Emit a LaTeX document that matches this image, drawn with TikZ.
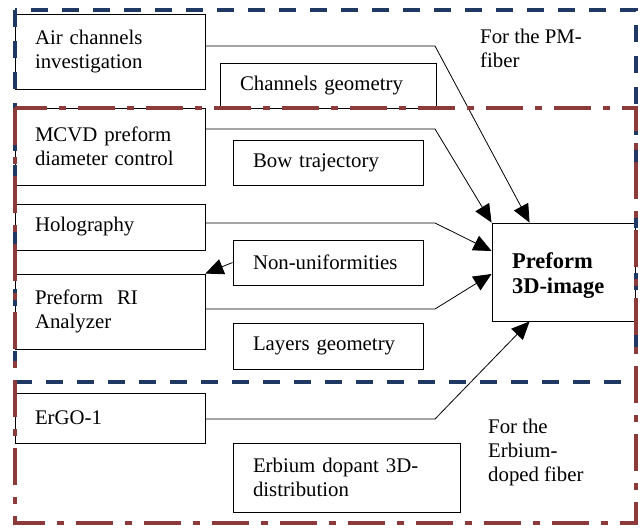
\documentclass[tikz,border=0pt]{standalone}
\usepackage{fontspec}
\setmainfont{Liberation Serif}
\usepackage{tikz}
\usetikzlibrary{arrows.meta}
\definecolor{pmblue}{RGB}{31,56,100}
\definecolor{erbrown}{RGB}{140,58,58}
\tikzstyle{method} = [rectangle, draw=black, line width=0.9pt, text width=150pt, inner xsep=20pt, inner ysep=2pt, align=left, font=\fontsize{20.8}{24}\selectfont]
\tikzstyle{result} = [rectangle, draw=black, line width=0.9pt, text width=103pt, inner xsep=20pt, inner ysep=2pt, align=left, font=\fontsize{22.5}{25}\selectfont\bfseries]
\tikzstyle{note} = [inner sep=0pt, anchor=north west, align=left, font=\fontsize{20.8}{24}\selectfont]
\tikzstyle{arrow} = [line width=0.8pt,-{Triangle[length=18pt,width=16pt]}]
\tikzstyle{pmzone} = [draw=pmblue, line width=4pt, dash pattern=on 17pt off 14pt]
\tikzstyle{erzone} = [draw=erbrown, line width=4pt, dash pattern=on 37pt off 12pt on 7pt off 12pt]

\begin{document}
\begin{tikzpicture}[x=1pt,y=-1pt]
\useasboundingbox (0,0) rectangle (642,527);

% left column
\node(air)[method, minimum height=75pt] at (110,51.5) {Air channels\\investigation};
\node(mcvd)[method, minimum height=77pt] at (110,146.5) {MCVD preform\\diameter control};
\node(holo)[method, minimum height=46pt] at (110,227) {Holography};
\node(ri)[method, minimum height=75pt] at (110,311.5) {Preform~~RI\\Analyzer};
\node(ergo)[method, minimum height=50pt] at (110,418) {ErGO-1};

% middle column
\node(chgeo)[method, text width=176pt, minimum height=45pt] at (328,85.5) {Channels geometry};
\node(bow)[method, minimum height=45pt] at (328,162.5) {Bow trajectory};
\node(nonu)[method, minimum height=45pt] at (328,262.5) {Non-uniformities};
\node(layers)[method, minimum height=46pt] at (328,346) {Layers geometry};
\node(erdist)[method, text width=187pt, minimum height=69pt] at (346.5,477.5) {Erbium dopant 3D-\\distribution};

\node(img)[result, minimum height=98pt, text depth=22pt] at (563.5,272) {Preform\\3D-image};

\node(pmnote)[note] at (480,29) {For the PM-\\fiber};
\node(ernote)[note] at (488,419) {For the\\Erbium-\\doped fiber};

\coordinate (airbend) at (435,46);
\coordinate (mcvdbend) at (435,129);
\coordinate (holobend) at (435,223);
\coordinate (ribend) at (435,309);
\coordinate (ergobend) at (435,419);

\draw [arrow] (air.east |- airbend) -- (airbend) -- ([xshift=38pt]img.north west);
\draw [arrow] (mcvd.east |- mcvdbend) -- (mcvdbend) -- (img.north west);
\draw [arrow] (holo.east |- holobend) -- (holobend) -- ([yshift=21pt]img.west);
\draw [arrow] (ri.east |- ribend) -- (ribend) -- ([yshift=-2pt]img.west);
\draw [arrow] (ergo.east |- ergobend) -- (ergobend) -- ([xshift=38pt]img.south west);
\draw [arrow] (nonu.west) -- (ri.north east);

% zones
\draw [pmzone] (15,10) rectangle (636,382);
\draw [erzone] (15,108) rectangle (636,523);
\end{tikzpicture}
\end{document}
